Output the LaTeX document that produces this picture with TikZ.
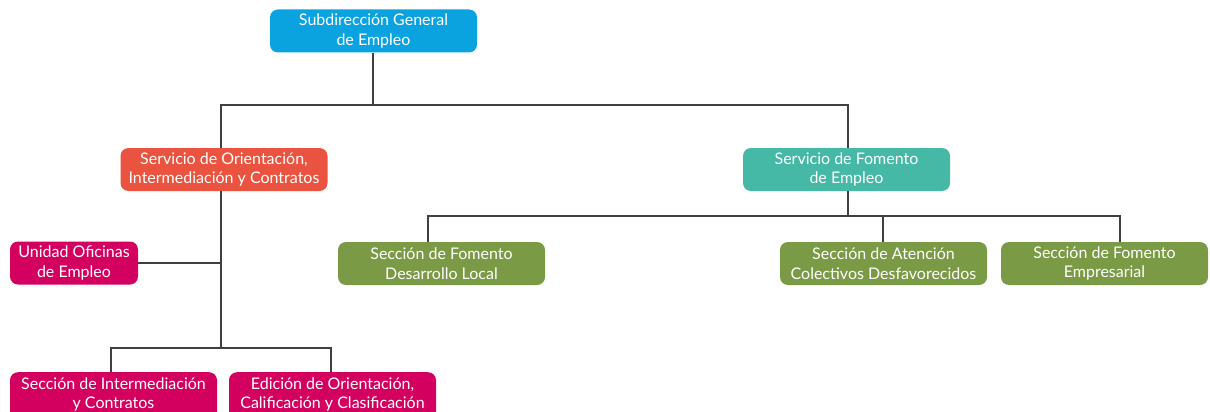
\documentclass[tikz,border=0pt]{standalone}
\usepackage{fontspec}
\setmainfont{Lato}
\definecolor{cblue}{HTML}{0AA3E0}
\definecolor{corange}{HTML}{E9533F}
\definecolor{cteal}{HTML}{45B8A6}
\definecolor{cgreen}{HTML}{7A9A45}
\definecolor{cmag}{HTML}{D4005F}
\definecolor{cline}{HTML}{404040}
\begin{document}
\begin{tikzpicture}[x=1pt,y=-1pt,
  lbl/.style={text=white, align=center, font=\fontsize{16}{19.5}\selectfont},
  box/.style={lbl, rounded corners=8pt, minimum width=207pt, minimum height=43pt, inner sep=0pt},
  conn/.style={draw=cline, line width=1.2pt}]
\clip (0,0) rectangle (1210,412);
\fill[white] (0,0) rectangle (1210,412);
\node[box, fill=cblue] (top) at (373.5,31) {Subdirección General\\de Empleo};
\node[box, fill=corange] (ori) at (224,169.5) {Servicio de Orientación,\\Intermediación y Contratos};
\node[box, fill=cteal] (fom) at (846.5,169.5) {Servicio de Fomento\\de Empleo};
\node[box, fill=cgreen] (des) at (441.5,263.5) {Sección de Fomento\\Desarrollo Local};
\node[box, fill=cgreen] (ate) at (883.5,263.5) {Sección de Atención\\Colectivos Desfavorecidos};
\node[box, fill=cgreen] (emp) at (1104.5,263.5) {Sección de Fomento\\Empresarial};
\node[box, fill=cmag, minimum width=128pt] (uni) at (74,263) {Unidad Oficinas\\de Empleo};
\node[box, fill=cmag, minimum height=50pt, anchor=north] (int) at (113.5,372) {};
\node[box, fill=cmag, minimum height=50pt, anchor=north] (edi) at (332.5,372) {};
\node[lbl, anchor=north] (intt) at (113.5,374) {Sección de Intermediación\\y Contratos};
\node[lbl, anchor=north] (edit) at (332.5,374) {Edición de Orientación,\\Calificación y Clasificación};
\coordinate (j1) at (373,105);
\coordinate (j2) at (848,216);
\coordinate (j3) at (221,348);
\coordinate (j4) at (221,263);
\draw[conn] (top.south -| j1) -- (j1);
\draw[conn] (ori.north -| 221,0) |- (j1) -| (fom.north -| 848,0);
\draw[conn] (fom.south -| j2) -- (j2);
\draw[conn] (des.north -| 428,0) |- (j2) -| (emp.north -| 1120,0);
\draw[conn] (ate.north -| 883,0) -- (j2 -| 883,0);
\draw[conn] (ori.south -| j3) -- (j3);
\draw[conn] (uni.east) -- (j4);
\draw[conn] (int.north -| 111,0) |- (j3) -| (edi.north -| 331,0);
\end{tikzpicture}
\end{document}
